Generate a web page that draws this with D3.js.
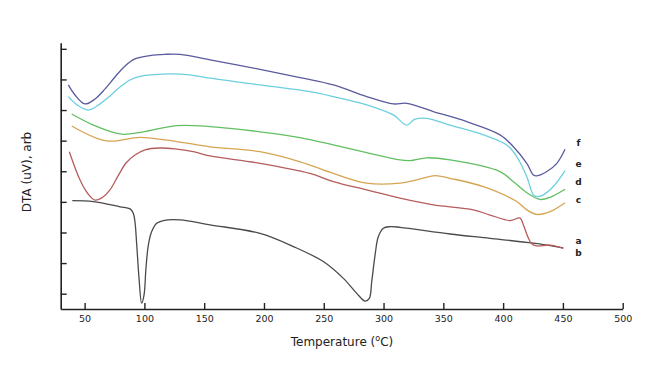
<!DOCTYPE html>
<html>
<head>
<meta charset="utf-8">
<script src="https://cdn.jsdelivr.net/npm/d3@7"></script>
<style>
  body { margin: 0; background: #fff; }
  text { font-family: "DejaVu Sans", Verdana, sans-serif; fill: #222; }
</style>
</head>
<body>
<svg id="chart"></svg>
<script>
// DTA curves, temperature (C) vs signal (arbitrary units)
const seriesNames = ["a", "b", "c", "d", "e", "f"];
const xTicks = [50, 100, 150, 200, 250, 300, 350, 400, 450, 500];
const yTicks = [5, 15, 25, 35, 45, 55, 65, 75, 85];

const aT = [39.7, 57.3, 79.6, 88.0, 90.7, 92.1, 93.6, 95.5, 97.7, 99.7, 101.3, 103.3, 106.1, 110.3, 115.8, 129.8, 154.9, 196.7, 224.6, 249.6, 266.4, 277.6, 284.5, 288.1, 290.1, 292.9, 295.6, 299.8, 305.4, 313.8, 355.6, 389.1, 425.3, 450.3];
const aV = [35.4, 35.1, 33.4, 32.7, 31.3, 28.5, 20.9, 10.1, 1.9, 4.6, 13.3, 20.9, 25.3, 28.0, 28.9, 29.1, 27.5, 24.7, 20.4, 15.5, 10.0, 5.1, 2.6, 3.5, 8.9, 17.6, 23.6, 26.4, 26.9, 26.7, 24.5, 23.1, 21.5, 20.0];

const bT = [37.2, 46.1, 52.3, 58.7, 65.4, 71.2, 78.0, 84.6, 92.1, 100.5, 113.1, 125.6, 140.9, 154.9, 196.7, 238.5, 258.0, 285.9, 313.8, 341.6, 375.1, 389.1, 405.8, 414.2, 416.9, 421.1, 423.9, 428.1, 439.2, 450.3];
const bV = [51.4, 42.2, 37.9, 35.6, 36.6, 38.9, 43.5, 47.7, 50.3, 52.0, 52.6, 52.3, 51.4, 50.0, 47.6, 44.3, 41.6, 38.9, 36.2, 34.0, 32.4, 30.7, 28.9, 29.7, 27.5, 23.2, 21.3, 20.6, 20.9, 19.8];

const cT = [39.2, 68.5, 96.3, 127.0, 154.9, 196.7, 230.2, 258.0, 285.9, 313.8, 327.8, 343.1, 355.6, 383.5, 411.4, 419.8, 428.2, 439.3, 451.8];
const cV = [59.8, 54.9, 56.1, 54.7, 53.0, 51.4, 48.1, 44.3, 41.1, 41.1, 42.2, 43.6, 42.7, 40.0, 35.1, 32.4, 30.9, 31.8, 34.7];

const dT = [39.2, 57.3, 81.0, 99.1, 127.0, 154.9, 196.7, 230.2, 258.0, 285.9, 313.8, 322.2, 336.1, 355.6, 397.4, 408.6, 419.8, 430.9, 439.3, 451.8];
const dV = [63.7, 60.1, 57.1, 57.9, 59.9, 59.6, 57.9, 56.0, 53.6, 51.1, 48.7, 48.5, 49.4, 48.7, 44.9, 41.6, 38.0, 35.8, 36.5, 39.1];

const eT = [36.4, 44.0, 53.1, 62.9, 71.2, 79.6, 88.0, 96.3, 108.9, 121.4, 138.1, 154.9, 196.7, 238.5, 258.0, 285.9, 308.2, 319.4, 326.3, 336.1, 355.6, 383.5, 403.0, 411.4, 419.8, 425.3, 428.2, 433.7, 442.0, 451.8];
const eV = [69.4, 66.6, 65.0, 67.0, 69.6, 72.5, 74.8, 76.0, 76.6, 76.8, 76.5, 75.4, 73.2, 71.0, 69.4, 66.7, 63.4, 60.1, 62.0, 62.3, 60.1, 56.9, 53.6, 49.8, 43.2, 37.3, 36.7, 37.3, 40.0, 45.2];

const fT = [36.4, 42.0, 50.3, 58.7, 67.1, 75.4, 83.8, 92.1, 104.7, 117.2, 129.8, 154.9, 196.7, 230.2, 258.0, 285.9, 308.2, 319.4, 341.6, 369.6, 397.4, 408.6, 419.8, 425.3, 428.2, 436.6, 444.9, 451.8];
const fV = [73.2, 69.9, 67.0, 68.6, 71.9, 75.8, 79.4, 81.7, 82.8, 83.2, 83.2, 81.4, 78.3, 75.6, 73.2, 69.4, 67.0, 67.2, 64.5, 61.2, 56.9, 53.0, 47.6, 43.8, 43.5, 44.9, 47.6, 52.2];

const temps = [aT, bT, cT, dT, eT, fT];
const values = [aV, bV, cV, dV, eV, fV];

const width = 668;
const height = 375;
const colors = ["#4a4a4a", "#b65c5c", "#d6a552", "#62bf62", "#6ccfe0", "#5a5a9e"];
// where the curve letters sit (signal units), at the right end
const labelVals = [21.2, 17.4, 34.7, 40.5, 46.5, 53.4];

const svg = d3.select("#chart")
  .attr("width", width)
  .attr("height", height)
  .style("background", "#fff");

const x = d3.scaleLinear().domain([30, 500]).range([60.7, 622.7]);
const y = d3.scaleLinear().domain([0, 87]).range([309, 42.7]);

const line = d3.line()
  .x(d => x(d[0]))
  .y(d => y(d[1]))
  .curve(d3.curveCatmullRom.alpha(0.5));

seriesNames.forEach((name, i) => {
  const pts = temps[i].map((t, j) => [t, values[i][j]]);
  svg.append("path")
    .datum(pts)
    .attr("fill", "none")
    .attr("stroke", colors[i])
    .attr("stroke-width", 1.3)
    .attr("d", line);

  svg.append("text")
    .attr("x", x(463))
    .attr("y", y(labelVals[i]))
    .attr("text-anchor", "middle")
    .style("font-size", "9px")
    .style("font-weight", "bold")
    .text(name);
});

const xAxis = svg.append("g")
  .attr("transform", `translate(0,${y(0)})`)
  .call(d3.axisBottom(x).tickValues(xTicks).tickSizeInner(-6).tickSizeOuter(0).tickPadding(6));

const yAxis = svg.append("g")
  .attr("transform", `translate(${x(30)},0)`)
  .call(d3.axisLeft(y).tickValues(yTicks).tickSizeInner(-6).tickSizeOuter(0).tickFormat(""));

[xAxis, yAxis].forEach(g => {
  g.select(".domain").attr("stroke", "#222").attr("stroke-width", 1.6);
  g.selectAll(".tick line").attr("stroke", "#222").attr("stroke-width", 1.4);
  g.selectAll("text").style("font-size", "9.5px").style("font-family", "'DejaVu Sans', Verdana, sans-serif").attr("fill", "#222");
});

const xLabel = svg.append("text")
  .attr("x", 342)
  .attr("y", 346)
  .attr("text-anchor", "middle")
  .style("font-size", "12px");
xLabel.append("tspan").text("Temperature (");
xLabel.append("tspan").attr("dy", -5).style("font-size", "8px").text("o");
xLabel.append("tspan").attr("dy", 5).text("C)");

svg.append("text")
  .attr("transform", "translate(31,172) rotate(-90)")
  .attr("text-anchor", "middle")
  .style("font-size", "12px")
  .text("DTA (uV), arb");
</script>
</body>
</html>
